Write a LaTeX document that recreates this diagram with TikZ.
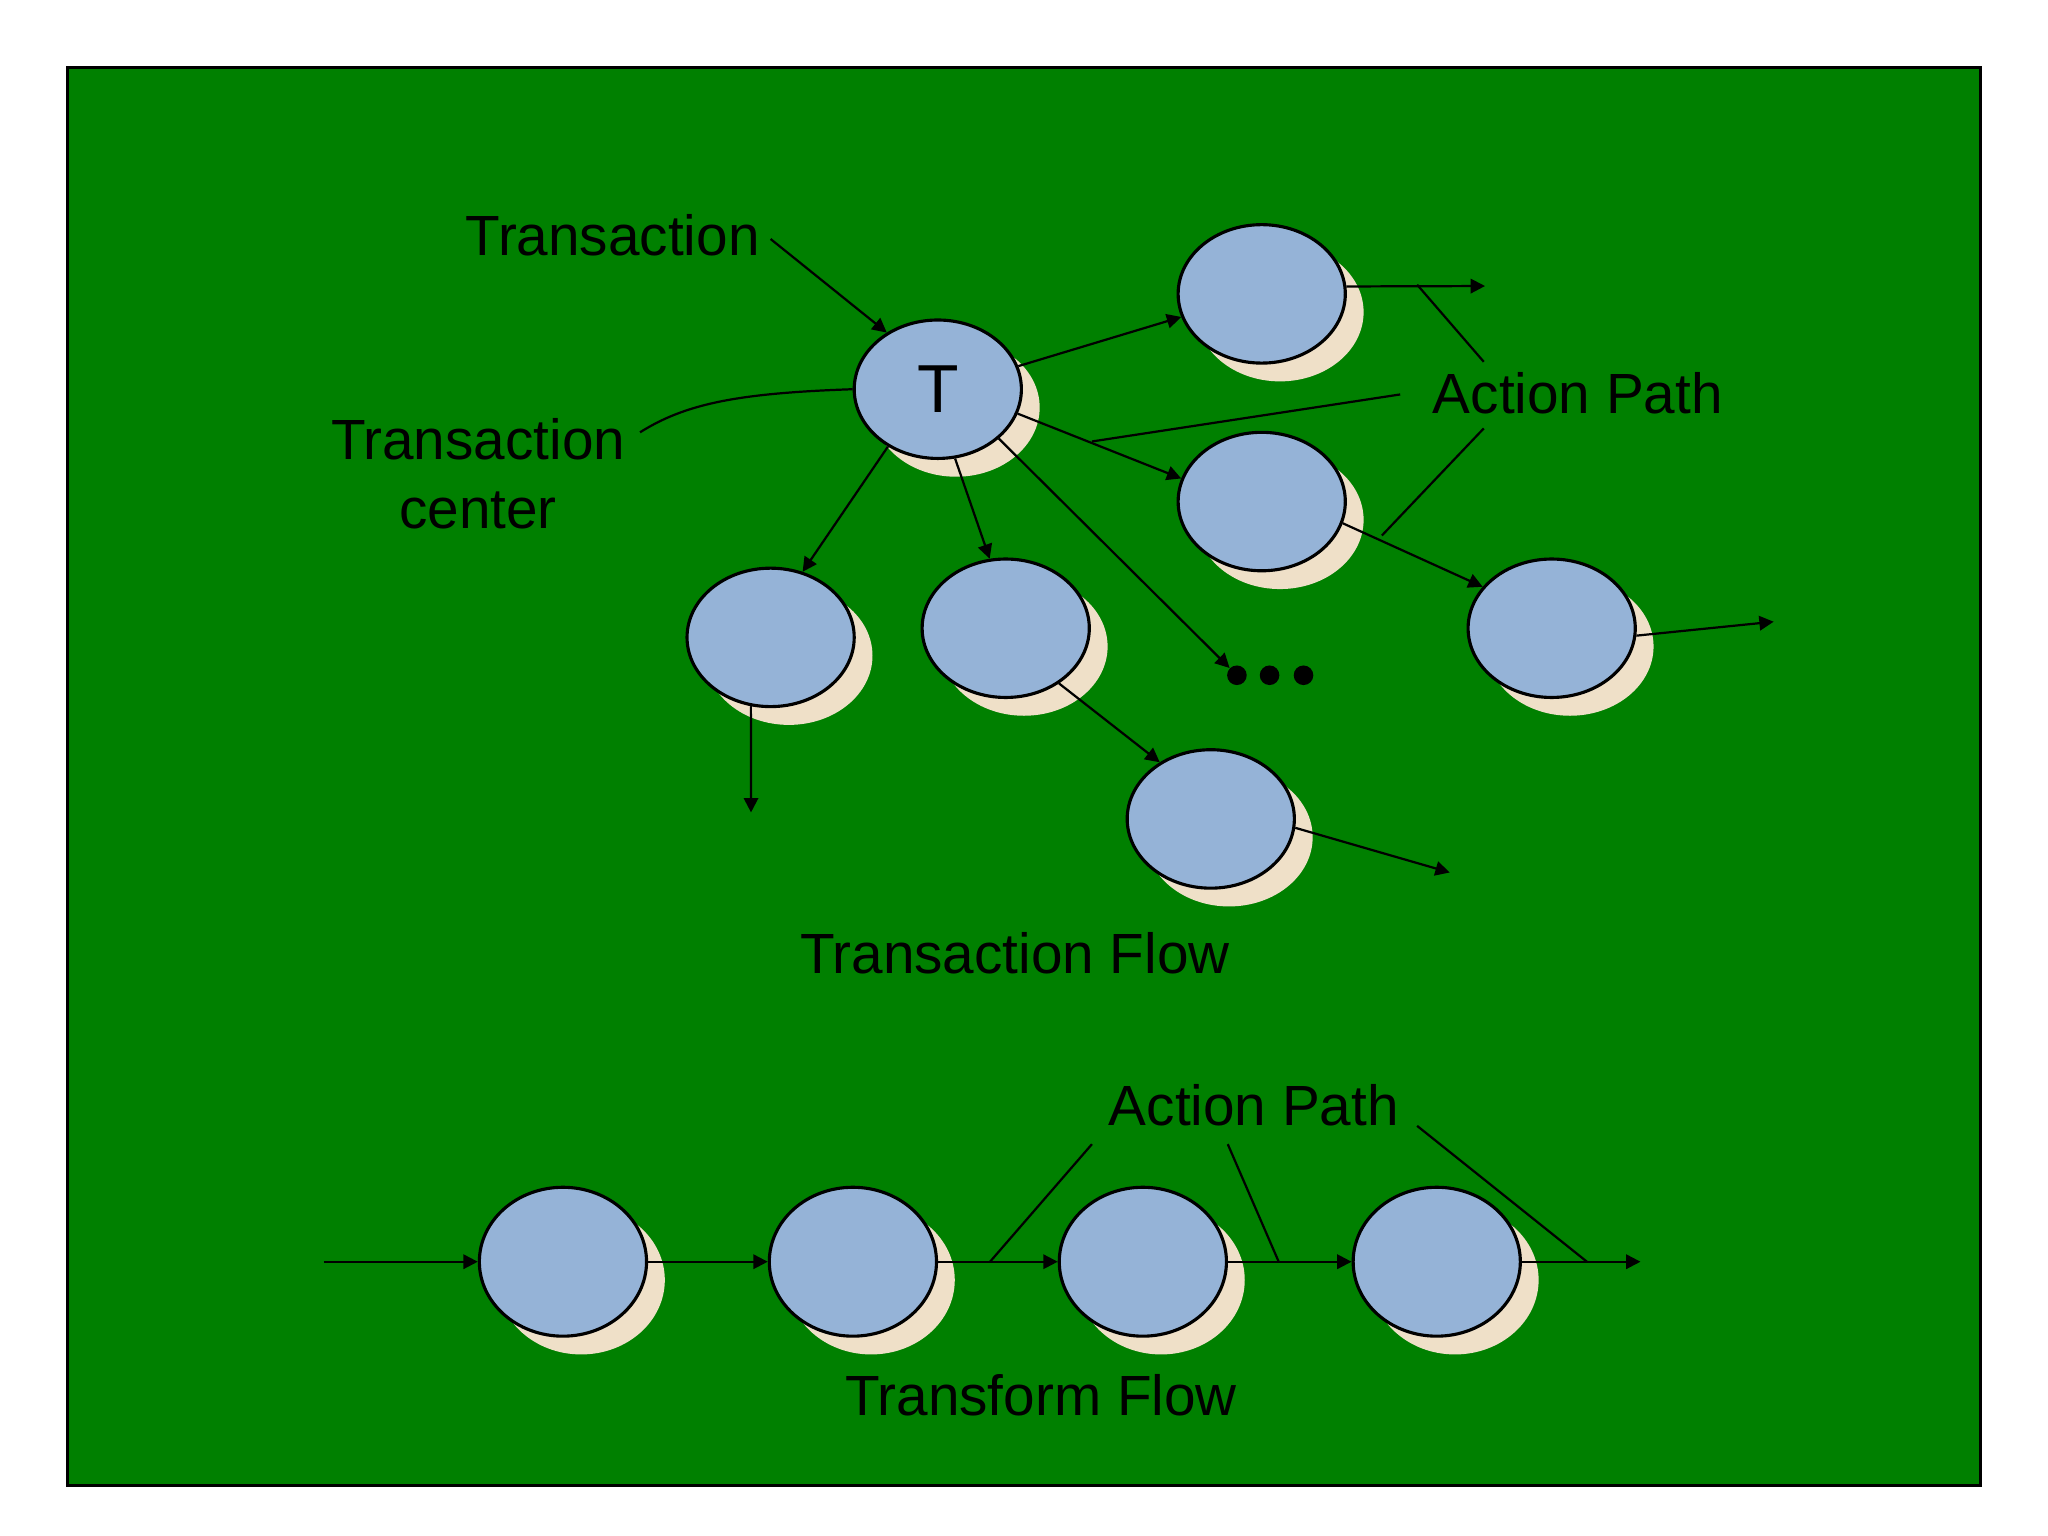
\documentclass[tikz,border=0pt]{standalone}
\usepackage{fontspec}
\setmainfont{Liberation Sans}
\usetikzlibrary{arrows.meta,shapes.geometric,shadows}
\definecolor{bg}{HTML}{008000}
\definecolor{nodeblue}{HTML}{95B3D7}
\definecolor{shadowtan}{HTML}{EFE0C8}
\begin{document}
\begin{tikzpicture}[x=0.5pt,y=-0.5pt,
 proc/.style={ellipse,draw=black,line width=1.2pt,fill=nodeblue,minimum width=64pt,minimum height=53pt,inner sep=0pt,
   drop shadow={shadow xshift=7pt,shadow yshift=-7pt,fill=shadowtan,opacity=1}},
 tall/.style={proc,minimum height=57pt},
 conn/.style={line width=0.85pt,-{Triangle[length=5.5pt,width=5.5pt]}},
 lead/.style={line width=0.85pt},
 lbl/.style={font=\fontsize{21.7}{26.5}\selectfont,inner sep=0pt,align=center},
 dotn/.style={circle,fill=black,minimum size=7.5pt,inner sep=0pt}]
\useasboundingbox (0,0) rectangle (1568,1176);
\draw[fill=bg,line width=1.2pt] (52,52) rectangle (1516,1137);

% transaction flow nodes
\node[proc] (T) at (718,298) {\fontsize{26}{30}\selectfont\raisebox{-2.5pt}{T}};
\node[proc] (R1) at (966,225) {};
\node[proc] (R2) at (966,384) {};
\node[proc] (R3) at (1188,481) {};
\node[proc] (L1) at (590,488) {};
\node[proc] (L2) at (770,481) {};
\node[proc] (B) at (927,627) {};
\node[dotn] (d1) at (947,517) {};
\node[dotn] (d2) at (972,517) {};
\node[dotn] (d3) at (998,517) {};

% labels
\node[lbl] (ltrans) at (469,180) {Transaction};
\node[lbl] (lcenter) at (366,363) {Transaction\\center};
\node[lbl] (lap1) at (1208,301) {Action Path};
\node[lbl] (ltflow) at (777,730) {Transaction Flow};
\node[lbl] (lap2) at (960,846) {Action Path};
\node[lbl] (lfflow) at (797,1068) {Transform Flow};

% free ends
\coordinate (tstart) at (590,183);
\coordinate (cstart) at (490,331);
\coordinate (r1end) at (1137,219);
\coordinate (r3end) at (1358,476);
\coordinate (l1end) at (575,622);
\coordinate (bend) at (1110,668);
\coordinate (ap1a) at (1136,277);
\coordinate (ap1aend) at (1085,218);
\coordinate (ap1b) at (1072,302);
\coordinate (ap1bend) at (836,338);
\coordinate (ap1c) at (1136,328);
\coordinate (ap1cend) at (1058,410);

% connectors
\draw[conn] (tstart) -- (T.132);
\draw[lead] (cstart) .. controls (525,309) and (565,301) .. (T.180);
\draw[conn] (T.16) -- (R1.196);
\draw[conn] (T.-17) -- (R2.164);
\draw[conn] (T.229) -- (L1.64);
\draw[conn] (T.-76) -- (L2.103);
\draw[conn] (T.-39) -- (d1);
\draw[conn] (R1.5) -- (r1end);
\draw[conn] (R2.-15.5) -- (R3.149);
\draw[conn] (R3.-5) -- (r3end);
\draw[conn] (L1.-106) -- (l1end);
\draw[conn] (L2.-46) -- (B.132);
\draw[conn] (B.-6) -- (bend);
\draw[lead] (ap1a) -- (ap1aend);
\draw[lead] (ap1b) -- (ap1bend);
\draw[lead] (ap1c) -- (ap1cend);

% transform flow
\node[tall] (F1) at (431,966) {};
\node[tall] (F2) at (653,966) {};
\node[tall] (F3) at (875,966) {};
\node[tall] (F4) at (1100,966) {};
\coordinate (fin) at (248,966);
\coordinate (fout) at (1256,966);
\draw[conn] (fin) -- (F1.west);
\draw[conn] (F1.east) -- (F2.west);
\draw[conn] (F2.east) -- (F3.west);
\draw[conn] (F3.east) -- (F4.west);
\draw[conn] (F4.east) -- (fout);
\coordinate (ap2a) at (836,876);
\coordinate (ap2aend) at (758,966);
\coordinate (ap2b) at (940,876);
\coordinate (ap2bend) at (979,966);
\coordinate (ap2c) at (1085,862);
\coordinate (ap2cend) at (1215,966);
\draw[lead] (ap2a) -- (ap2aend);
\draw[lead] (ap2b) -- (ap2bend);
\draw[lead] (ap2c) -- (ap2cend);
\end{tikzpicture}
\end{document}
